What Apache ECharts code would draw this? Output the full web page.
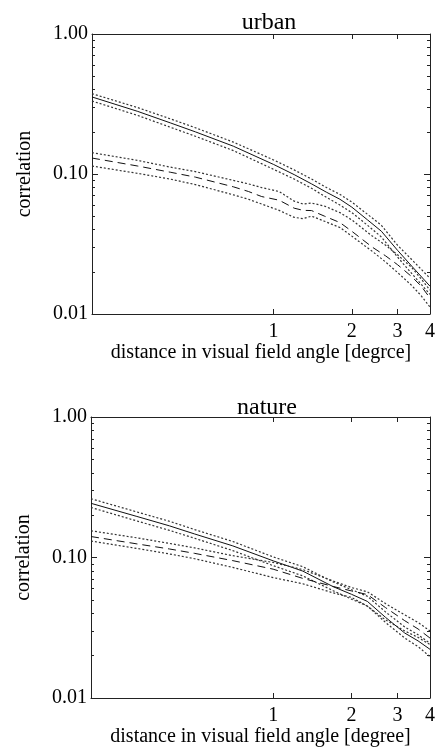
<!DOCTYPE html>
<html>
<head>
    <meta charset="utf-8">
    <title>correlation</title>
    <script src="https://cdn.jsdelivr.net/npm/echarts@6/dist/echarts.min.js"></script>
    <style>
        html, body { margin: 0; padding: 0; background: #fff; }
        #main { width: 438px; height: 749px; }
    </style>
</head>
<body>
<div id="main"></div>
<script type="text/javascript">
    // urban panel
    var urbanSolidX = [0.2, 0.3, 0.4, 0.5, 0.7, 1.0, 1.2, 1.4, 1.6, 1.8, 2.0, 2.3, 2.6, 3.0, 3.4, 4.0];
    var urbanSolid = [0.355, 0.28, 0.232, 0.200, 0.158, 0.117, 0.099, 0.085, 0.074, 0.066, 0.058, 0.047, 0.039, 0.0285, 0.022, 0.0158];
    var urbanSolidHi = [0.375, 0.298, 0.248, 0.214, 0.169, 0.126, 0.107, 0.092, 0.080, 0.0715, 0.063, 0.0515, 0.043, 0.031, 0.0245, 0.018];
    var urbanSolidLo = [0.332, 0.262, 0.216, 0.186, 0.147, 0.108, 0.092, 0.079, 0.068, 0.060, 0.053, 0.043, 0.0355, 0.0255, 0.0195, 0.0138];

    var urbanDashX = [0.2, 0.3, 0.4, 0.5, 0.7, 0.8, 0.9, 1.05, 1.2, 1.3, 1.4, 1.57, 1.8, 2.0, 2.4, 2.7, 3.0, 3.4, 3.7, 4.0];
    var urbanDash = [0.130, 0.114, 0.103, 0.095, 0.081, 0.075, 0.069, 0.065, 0.057, 0.055, 0.0548, 0.050, 0.045, 0.039, 0.030, 0.026, 0.0225, 0.0185, 0.0158, 0.0130];
    var urbanDashHi = [0.142, 0.125, 0.112, 0.104, 0.090, 0.085, 0.080, 0.075, 0.064, 0.061, 0.062, 0.059, 0.053, 0.047, 0.036, 0.031, 0.0265, 0.0215, 0.0178, 0.0148];
    var urbanDashLo = [0.114, 0.101, 0.092, 0.084, 0.071, 0.066, 0.061, 0.055, 0.049, 0.048, 0.050, 0.046, 0.0415, 0.036, 0.028, 0.0235, 0.0198, 0.016, 0.0135, 0.0112];

    // nature panel
    var natureX = [0.2, 0.3, 0.4, 0.5, 0.7, 1.0, 1.3, 1.7, 2.0, 2.3, 2.7, 3.2, 3.6, 4.0];
    var natureSolid = [0.243, 0.196, 0.168, 0.147, 0.121, 0.0947, 0.080, 0.062, 0.0547, 0.0487, 0.0375, 0.029, 0.0255, 0.0222];
    var natureSolidHi = [0.262, 0.211, 0.181, 0.158, 0.130, 0.101, 0.086, 0.067, 0.059, 0.053, 0.041, 0.032, 0.0282, 0.0245];
    var natureSolidLo = [0.227, 0.182, 0.156, 0.137, 0.112, 0.0875, 0.074, 0.058, 0.0505, 0.0452, 0.0345, 0.0267, 0.0232, 0.0197];
    var natureDash = [0.141, 0.125, 0.115, 0.107, 0.095, 0.0826, 0.071, 0.0622, 0.0578, 0.0545, 0.044, 0.0355, 0.031, 0.0267];
    var natureDashHi = [0.155, 0.138, 0.126, 0.117, 0.103, 0.0922, 0.082, 0.068, 0.0611, 0.057, 0.047, 0.039, 0.0345, 0.030];
    var natureDashLo = [0.131, 0.116, 0.106, 0.098, 0.085, 0.072, 0.065, 0.056, 0.052, 0.045, 0.036, 0.030, 0.027, 0.024];

    // axis ticks
    var xTicks = [1, 2, 3, 4];
    var yMajor = [0.01, 0.1, 1];
    var yMinor = [0.02, 0.03, 0.04, 0.05, 0.06, 0.07, 0.08, 0.09, 0.2, 0.3, 0.4, 0.5, 0.6, 0.7, 0.8, 0.9];

    var titles = ['urban', 'nature'];
    var xName = ['distance in visual field angle [degrce]', 'distance in visual field angle [degree]'];
    var yName = 'correlation';

    var FONT = '"Liberation Serif", "DejaVu Serif", serif';
    var myChart = echarts.init(document.getElementById('main'));

    function pts(xs, ys) {
        var out = [];
        for (var i = 0; i < xs.length; i++) {
            out.push([xs[i], ys[i]]);
        }
        return out;
    }

    // x axis: bottom one has the text, top one only ticks
    function xAx(g, pos, withText) {
        return {
            type: 'log', logBase: 10, gridIndex: g, position: pos,
            min: 0.2, max: 4,
            name: withText ? xName[g] : '',
            nameLocation: 'middle', nameGap: 28,
            nameTextStyle: { fontFamily: FONT, fontSize: 20, color: '#000' },
            axisLine: { show: true, onZero: false, lineStyle: { color: '#222', width: 1 } },
            axisTick: { show: true, inside: true, length: 5, customValues: xTicks, lineStyle: { color: '#222' } },
            axisLabel: {
                show: withText, customValues: xTicks, margin: 8,
                fontFamily: FONT, fontSize: 20, color: '#000',
                formatter: function(v) { return String(Math.round(v)); }
            },
            splitLine: { show: false },
            minorTick: { show: false }
        };
    }

    // y axis: major ticks + labels, or minor ticks only
    function yAx(g, pos, minor, withText) {
        return {
            type: 'log', logBase: 10, gridIndex: g, position: pos,
            min: 0.01, max: 1,
            name: withText ? yName : '',
            nameLocation: 'middle', nameGap: 57, nameRotate: 90,
            nameTextStyle: { fontFamily: FONT, fontSize: 20, color: '#000' },
            axisLine: { show: !minor, onZero: false, lineStyle: { color: '#222', width: 1 } },
            axisTick: { show: true, inside: true, length: minor ? 3 : 6, customValues: minor ? yMinor : yMajor, lineStyle: { color: '#222' } },
            axisLabel: {
                show: withText, customValues: yMajor, margin: 4,
                fontFamily: FONT, fontSize: 20, color: '#000',
                formatter: function(v) { return v.toFixed(2); }
            },
            splitLine: { show: false }
        };
    }

    function line(name, g, data, kind) {
        var ls = { color: '#111', width: 1, type: 'solid' };
        if (kind === 'dash') {
            ls = { color: '#111', width: 1, type: [8, 5] };
        } else if (kind === 'dot') {
            ls = { color: '#333', width: 1.2, type: [2, 2] };
        }
        return {
            name: name, type: 'line', xAxisIndex: g * 2, yAxisIndex: g * 4,
            data: data, showSymbol: false, symbol: 'none', smooth: false,
            lineStyle: ls, silent: true
        };
    }

    var option = {
        animation: false,
        backgroundColor: '#fff',
        title: [
            { text: titles[0], left: 264, top: 6, textAlign: 'center', textStyle: { fontFamily: FONT, fontSize: 24, fontWeight: 'normal', color: '#000' } },
            { text: titles[1], left: 262, top: 391, textAlign: 'center', textStyle: { fontFamily: FONT, fontSize: 24, fontWeight: 'normal', color: '#000' } }
        ],
        grid: [
            { left: 92, top: 34, width: 342, height: 280 },
            { left: 91, top: 417, width: 341, height: 281 }
        ],
        xAxis: [
            xAx(0, 'bottom', true), xAx(0, 'top', false),
            xAx(1, 'bottom', true), xAx(1, 'top', false)
        ],
        yAxis: [
            yAx(0, 'left', false, true), yAx(0, 'left', true, false),
            yAx(0, 'right', false, false), yAx(0, 'right', true, false),
            yAx(1, 'left', false, true), yAx(1, 'left', true, false),
            yAx(1, 'right', false, false), yAx(1, 'right', true, false)
        ],
        series: [
            line('urban solid', 0, pts(urbanSolidX, urbanSolid), 'solid'),
            line('urban solid hi', 0, pts(urbanSolidX, urbanSolidHi), 'dot'),
            line('urban solid lo', 0, pts(urbanSolidX, urbanSolidLo), 'dot'),
            line('urban dash', 0, pts(urbanDashX, urbanDash), 'dash'),
            line('urban dash hi', 0, pts(urbanDashX, urbanDashHi), 'dot'),
            line('urban dash lo', 0, pts(urbanDashX, urbanDashLo), 'dot'),
            line('nature solid', 1, pts(natureX, natureSolid), 'solid'),
            line('nature solid hi', 1, pts(natureX, natureSolidHi), 'dot'),
            line('nature solid lo', 1, pts(natureX, natureSolidLo), 'dot'),
            line('nature dash', 1, pts(natureX, natureDash), 'dash'),
            line('nature dash hi', 1, pts(natureX, natureDashHi), 'dot'),
            line('nature dash lo', 1, pts(natureX, natureDashLo), 'dot')
        ]
    };

    myChart.setOption(option);
</script>
</body>
</html>
